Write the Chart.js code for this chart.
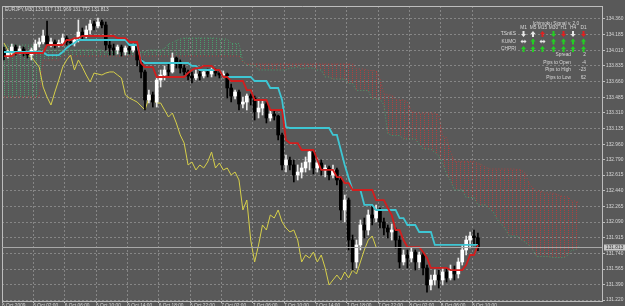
<!DOCTYPE html>
<html><head><meta charset="utf-8">
<script src="https://cdn.jsdelivr.net/npm/chart.js@4/dist/chart.umd.min.js"></script>
<style>html,body{margin:0;padding:0;background:#595959;overflow:hidden}canvas{display:block}</style>
</head><body>
<canvas id="c" width="625" height="306"></canvas>
<script>
// ---------- DATA ----------
const chartTitle = "EURJPY,M30 131.917 131.969 131.772 131.813";
const timeLabels = ["6 Oct 2009","6 Oct 02:00","6 Oct 06:00","6 Oct 10:00","6 Oct 14:00","6 Oct 18:00","6 Oct 22:00","7 Oct 02:00","7 Oct 06:00","7 Oct 10:00","7 Oct 14:00","7 Oct 18:00","7 Oct 22:00","8 Oct 02:00","8 Oct 06:00","8 Oct 10:00"];
const priceTicks = [134.360,134.185,134.010,133.835,133.660,133.485,133.310,133.135,132.960,132.790,132.615,132.440,132.265,132.090,131.915,131.740,131.565,131.390,131.220];

const opens = [134.013,133.946,133.991,134.047,134.002,134.025,133.980,133.957,134.013,134.080,134.103,134.170,134.080,134.103,134.069,134.092,134.147,134.103,134.092,134.125,
134.214,134.170,134.237,134.304,134.282,134.326,134.293,134.069,134.036,134.013,134.047,133.991,134.036,134.013,134.058,133.902,133.768,133.455,133.511,133.432,
133.678,133.734,133.790,133.768,133.924,133.879,133.812,133.768,133.723,133.701,133.745,133.723,133.768,133.745,133.779,133.756,133.734,133.745,133.589,133.499,
133.544,133.410,133.432,133.499,133.477,133.321,133.365,133.410,133.254,133.298,133.276,133.064,132.729,132.784,132.729,132.617,132.650,132.695,132.762,132.874,
132.695,132.751,132.673,132.695,132.617,132.673,132.561,132.226,132.337,131.890,131.645,131.835,132.058,132.002,132.170,132.136,132.226,132.092,132.025,131.980,
132.002,131.890,131.645,131.723,131.689,131.756,131.645,131.723,131.578,131.388,131.444,131.499,131.444,131.533,131.466,131.555,131.511,131.645,131.779,131.890,
131.935,131.917];
const highs = [134.047,134.013,134.080,134.069,134.058,134.047,134.002,134.036,134.125,134.147,134.237,134.337,134.147,134.125,134.125,134.192,134.170,134.125,134.147,134.349,
134.259,134.282,134.349,134.337,134.371,134.349,134.326,134.125,134.080,134.069,134.069,134.058,134.069,134.080,134.069,133.924,133.790,133.566,133.544,133.712,
133.790,133.835,133.868,133.980,133.935,133.902,133.846,133.790,133.768,133.790,133.790,133.790,133.801,133.812,133.801,133.790,133.779,133.756,133.633,133.566,
133.566,133.488,133.522,133.522,133.499,133.455,133.444,133.432,133.343,133.343,133.287,133.086,132.840,132.818,132.784,132.729,132.751,132.818,132.896,132.896,
132.807,132.784,132.729,132.717,132.729,132.695,132.583,132.393,132.360,131.946,131.890,132.114,132.136,132.226,132.282,132.282,132.248,132.136,132.058,132.069,
132.025,131.935,131.779,131.779,131.801,131.779,131.756,131.756,131.611,131.499,131.555,131.555,131.578,131.578,131.611,131.600,131.689,131.835,131.935,131.980,
132.002,131.969];
const lows = [133.902,133.924,133.957,133.957,133.969,133.946,133.924,133.902,133.991,134.047,134.080,134.058,134.047,134.036,134.047,134.058,134.069,134.058,134.058,134.103,
134.125,134.147,134.192,134.237,134.259,134.259,134.013,133.957,133.957,133.969,133.946,133.957,133.969,133.991,133.835,133.701,133.343,133.421,133.376,133.376,
133.600,133.678,133.712,133.756,133.812,133.756,133.734,133.678,133.645,133.678,133.678,133.701,133.712,133.712,133.723,133.701,133.701,133.477,133.432,133.466,
133.343,133.365,133.343,133.399,133.231,133.254,133.287,133.198,133.220,133.231,133.008,132.673,132.650,132.673,132.539,132.561,132.583,132.650,132.673,132.628,
132.650,132.617,132.594,132.561,132.583,132.505,132.114,132.092,131.779,131.555,131.578,131.779,131.913,131.946,132.058,132.092,132.025,131.946,131.913,131.890,
131.801,131.578,131.611,131.578,131.645,131.555,131.578,131.499,131.309,131.332,131.388,131.354,131.388,131.421,131.444,131.444,131.466,131.611,131.723,131.801,
131.846,131.772];
const closes = [133.946,133.991,134.047,134.002,134.025,133.980,133.957,134.013,134.080,134.103,134.170,134.080,134.103,134.069,134.092,134.147,134.103,134.092,134.125,134.214,
134.170,134.237,134.304,134.282,134.326,134.293,134.069,134.036,134.013,134.047,133.991,134.036,134.013,134.058,133.902,133.768,133.455,133.511,133.432,133.678,
133.734,133.790,133.768,133.924,133.879,133.812,133.768,133.723,133.701,133.745,133.723,133.768,133.745,133.779,133.756,133.734,133.745,133.589,133.499,133.544,
133.410,133.432,133.499,133.477,133.321,133.365,133.410,133.254,133.298,133.276,133.064,132.729,132.784,132.729,132.617,132.650,132.695,132.762,132.874,132.695,
132.751,132.673,132.695,132.617,132.673,132.561,132.226,132.337,131.890,131.645,131.835,132.058,132.002,132.170,132.136,132.226,132.092,132.025,131.980,132.002,
131.890,131.645,131.723,131.689,131.756,131.645,131.723,131.578,131.388,131.444,131.499,131.444,131.533,131.466,131.555,131.511,131.645,131.779,131.890,131.935,
131.917,131.813];

const tenkan = [133.946,133.946,133.946,133.980,133.980,133.980,133.980,133.980,133.980,133.980,133.980,134.069,134.069,134.069,134.069,134.069,134.125,134.125,134.147,134.147,
134.170,134.170,134.170,134.170,134.170,134.170,134.170,134.170,134.170,134.147,134.147,134.147,134.103,134.103,134.103,133.868,133.823,133.823,133.823,133.712,
133.712,133.712,133.712,133.712,133.712,133.712,133.712,133.756,133.790,133.812,133.812,133.835,133.835,133.835,133.790,133.790,133.712,133.712,133.667,133.667,
133.667,133.667,133.566,133.566,133.455,133.455,133.455,133.455,133.343,133.343,133.343,133.343,133.008,132.974,132.974,132.974,132.896,132.896,132.896,132.896,
132.784,132.673,132.673,132.673,132.673,132.594,132.594,132.527,132.527,132.449,132.449,132.449,132.449,132.449,132.449,132.337,132.337,132.337,132.248,132.170,
132.002,132.002,131.890,131.812,131.812,131.812,131.812,131.756,131.689,131.578,131.578,131.578,131.578,131.578,131.555,131.555,131.555,131.555,131.611,131.723,
131.723,131.835];
const kijun = [133.991,133.991,133.991,133.991,133.991,133.991,133.991,133.991,133.991,133.991,133.991,133.957,133.957,133.957,133.957,133.991,134.036,134.069,134.092,134.125,
134.125,134.125,134.125,134.125,134.125,134.125,134.125,134.125,134.125,134.125,134.125,134.125,134.069,134.069,134.069,133.902,133.868,133.868,133.868,133.868,
133.868,133.868,133.868,133.868,133.868,133.868,133.868,133.868,133.835,133.835,133.790,133.790,133.790,133.790,133.790,133.790,133.712,133.712,133.712,133.712,
133.712,133.712,133.712,133.712,133.667,133.667,133.667,133.667,133.589,133.589,133.589,133.455,133.153,133.142,133.142,133.142,133.142,133.142,133.142,133.142,
133.142,133.142,133.142,133.142,133.064,133.064,132.896,132.729,132.583,132.449,132.449,132.449,132.282,132.282,132.282,132.226,132.226,132.226,132.226,132.226,
132.226,132.136,132.136,132.058,132.058,132.058,131.980,131.980,131.980,131.980,131.835,131.835,131.835,131.835,131.835,131.835,131.835,131.835,131.835,131.835,
131.835,131.835];
const chikou = [134.092,134.013,133.957,133.991,134.013,133.991,133.957,133.935,133.879,133.823,133.600,133.488,133.399,133.544,133.678,133.823,133.902,133.957,133.790,133.902,
133.823,133.734,133.656,133.756,133.745,133.734,133.756,133.768,133.768,133.734,133.701,133.511,133.477,133.455,133.432,133.388,133.343,133.477,133.455,133.421,
133.421,133.343,133.265,133.309,133.198,133.064,132.974,132.729,132.762,132.673,132.729,132.695,132.762,132.874,132.695,132.751,132.673,132.695,132.617,132.650,
132.561,132.226,132.337,131.890,131.645,131.835,132.058,132.002,132.170,132.136,132.226,132.092,132.025,131.980,132.002,131.890,131.645,131.723,131.689,131.756,
131.645,131.723,131.578,131.388,131.444,131.499,131.444,131.533,131.466,131.555,131.511,131.645,131.779,131.890,131.935,131.812];
const spanA = [134.069,134.069,134.069,134.069,134.069,134.069,134.069,134.069,134.069,134.069,
134.013,134.013,134.013,134.013,134.013,134.013,134.013,134.013,134.013,134.013,134.013,134.013,134.013,134.013,134.013,134.013,
133.991,133.991,133.991,133.991,133.991,133.991,133.991,133.991,133.991,133.991,133.991,
134.013,134.013,134.013,134.013,134.030,
134.080,134.097,134.119,134.136,
134.147,134.147,134.147,134.147,134.147,134.147,134.147,134.147,134.147,
134.136,134.136,134.136,
134.086,134.086,134.086,
133.885,
133.846,133.846,133.846,
133.790,133.790,133.790,133.790,133.790,133.790,133.790,133.790,
133.812,133.812,133.823,133.801,
133.812,133.812,133.812,
133.790,133.790,
133.712,133.712,
133.689,133.689,133.689,133.689,
133.639,133.639,
133.561,133.561,133.561,133.561,
133.466,133.466,133.466,
133.399,
133.080,
133.058,133.058,133.058,
133.019,133.019,133.019,133.019,
132.963,
132.907,132.907,132.907,
132.868,132.829,132.745,132.628,132.555,
132.449,132.449,132.449,
132.365,132.365,132.365,
132.282,132.282,132.282,
132.237,132.198,132.114,132.069,132.013,
131.935,131.935,131.935,
131.896,131.868,131.835,131.779,
131.706,131.706,131.706,131.706,
131.695,131.695,131.695,131.695,
131.723,131.779,131.779,131.835];
const spanB = [133.488,133.488,133.488,133.488,133.488,133.488,133.488,133.488,133.488,133.488,
133.902,133.902,133.902,133.902,133.902,
133.946,133.946,133.946,133.946,133.946,133.946,133.946,133.946,133.946,133.946,
133.946,133.946,133.946,133.946,133.946,133.946,133.946,133.946,133.946,133.946,
133.946,133.946,133.946,133.946,133.946,133.946,133.946,133.946,133.946,133.946,
133.946,133.946,133.946,133.946,133.946,133.946,133.946,133.946,133.946,133.946,
133.946,133.946,133.946,133.946,133.946,133.946,
133.879,
133.857,133.857,133.857,133.857,133.857,133.857,133.857,133.857,133.857,133.857,
133.857,133.857,133.857,133.857,133.857,133.857,133.857,133.857,133.857,133.857,
133.857,133.857,133.857,133.857,133.857,133.857,133.857,133.857,
133.801,133.801,133.801,
133.784,133.784,133.784,
133.689,133.522,133.511,133.511,
133.455,133.455,133.455,
133.432,133.332,
133.309,133.309,133.309,133.309,133.309,133.309,
133.287,133.047,133.036,132.879,
132.768,132.768,132.768,132.768,132.768,132.768,
132.745,132.729,132.701,
132.684,132.684,132.684,132.684,132.684,132.684,132.684,
132.678,132.673,132.639,132.533,132.471,
132.438,132.438,
132.416,132.416,132.416,
132.404,132.382,132.377,132.371,
132.326,132.326,132.298];

const panelTitle = "Ichimoku Signal v. 2.0";
const panelTimeframes = ["M1","M5","M15","M30","H1","H4","D1"];
const panelRows = ["TSnKS","KUMO","CHPRI"];
const panelSignals = [
  ["down-w","up-w","up-r","down-g","down-r","down-w","down-r"],
  ["side-w","up-g","side-w","up-g","up-g","up-g","up-g"],
  ["up-g","up-g","up-g","up-g","up-g","up-g","up-g"]
];
const infoLabels = ["Spread","Pips to Open","Pips to High","Pips to Low"];
const infoValues = ["2","-4","-23","62"];

// ---------- STYLE ----------
const BG = '#595959';
const FONT = '"Liberation Sans", Arial, sans-serif';
const TXT = '#d8d8d8';
const GRID = 'rgba(150,150,150,0.75)';
const FRAME = '#bdbdbd';

function dotPattern(color){
  const c = document.createElement('canvas'); c.width = 4; c.height = 2;
  const g = c.getContext('2d'); g.fillStyle = color; g.fillRect(0,0,1,1);
  return g.createPattern(c,'repeat');
}
const greenPat = dotPattern('#4a9e6c');
const redPat = dotPattern('#ad4040');

const xy = arr => arr.map((v,i)=>({x:i,y:v}));
const bull = opens.map((o,i)=>closes[i] >= o);

const bgPlugin = {
  id:'bg',
  beforeDraw(chart){ const c = chart.ctx; c.save(); c.fillStyle = BG; c.fillRect(0,0,chart.width,chart.height); c.restore(); }
};
const framePlugin = {
  id:'frame',
  afterDraw(chart){
    const c = chart.ctx, a = chart.chartArea, ys = chart.scales.y;
    c.save();
    c.strokeStyle = FRAME; c.lineWidth = 1;
    c.beginPath();
    c.moveTo(a.left+0.5, a.bottom); c.lineTo(a.left+0.5, a.top+0.5); c.lineTo(a.right, a.top+0.5);
    c.stroke();
    // bid line
    const last = closes[closes.length-1];
    const py = Math.round(ys.getPixelForValue(last)) + 0.5;
    c.strokeStyle = '#a8a8a8';
    c.beginPath(); c.moveTo(a.left, py); c.lineTo(a.right, py); c.stroke();
    c.fillStyle = '#c9c9c9';
    c.fillRect(a.right+2, py-3, 21, 6);
    c.fillStyle = '#3a3a3a';
    c.font = '4.8px ' + FONT; c.textBaseline = 'middle'; c.textAlign = 'left';
    c.fillText(last.toFixed(3), a.right+4, py+0.3);
    // title
    c.fillStyle = TXT; c.textBaseline = 'top';
    c.font = '4.8px ' + FONT;
    c.fillText(chartTitle, 5, 7);
    // panel
    c.textAlign = 'center';
    c.fillText(panelTitle, 556, 21);
    const colX = [523.5,533,542.5,553.5,563.5,573,583.5];
    panelTimeframes.forEach((t,k)=>c.fillText(t, colX[k], 25.5));
    const rowY = [34,41.5,49];
    c.textAlign = 'right'; c.textBaseline = 'middle';
    panelRows.forEach((r,k)=>c.fillText(r, 516, rowY[k]));
    const cols = {w:'#e6e6e6', g:'#22d022', r:'#e02020'};
    panelSignals.forEach((row,ri)=>row.forEach((s,ci)=>{
      const [dir,col] = s.split('-');
      drawArrow(c, colX[ci], rowY[ri], dir, cols[col]);
    }));
    c.fillStyle = TXT; c.textAlign = 'right';
    const infoY = [55,62.5,70,77.5];
    infoLabels.forEach((l,k)=>{ c.fillText(l, 571, infoY[k]); });
    infoValues.forEach((v,k)=>{ c.fillText(v, 586, infoY[k]); });
    c.restore();
  }
};
function drawArrow(c, x, y, dir, color){
  c.save(); c.fillStyle = color; c.beginPath();
  if (dir === 'up'){
    c.moveTo(x, y-3); c.lineTo(x+2.5, y); c.lineTo(x+1, y); c.lineTo(x+1, y+3); c.lineTo(x-1, y+3); c.lineTo(x-1, y); c.lineTo(x-2.5, y);
  } else if (dir === 'down'){
    c.moveTo(x, y+3); c.lineTo(x+2.5, y); c.lineTo(x+1, y); c.lineTo(x+1, y-3); c.lineTo(x-1, y-3); c.lineTo(x-1, y); c.lineTo(x-2.5, y);
  } else {
    c.moveTo(x-3, y); c.lineTo(x-1, y-2); c.lineTo(x-1, y-0.8); c.lineTo(x+1, y-0.8); c.lineTo(x+1, y-2); c.lineTo(x+3, y);
    c.lineTo(x+1, y+2); c.lineTo(x+1, y+0.8); c.lineTo(x-1, y+0.8); c.lineTo(x-1, y+2);
  }
  c.closePath(); c.fill(); c.restore();
}

const PX_PER_BAR = 3.917;
const plotWidth = 600;

new Chart(document.getElementById('c'), {
  data: {
    datasets: [
      {type:'line', label:'Senkou Span A', data:xy(spanA), borderColor:'#4a9e6c', borderWidth:1, borderDash:[1,2], pointRadius:0,
       fill:{target:'+1', above:greenPat, below:redPat}, order:20},
      {type:'line', label:'Senkou Span B', data:xy(spanB), borderColor:'#ad4040', borderWidth:1, borderDash:[1,2], pointRadius:0, fill:false, order:19},
      {type:'line', label:'Chikou Span', data:xy(chikou), borderColor:'#d6cf4a', borderWidth:1, pointRadius:0, fill:false, order:10},
      {type:'bar', label:'wick', data:lows.map((l,i)=>({x:i,y:[l,highs[i]]})), barThickness:1, grouped:false,
       backgroundColor:bull.map(b=>b?'#e8e8e8':'#000000'), order:6},
      {type:'bar', label:'body', data:opens.map((o,i)=>({x:i,y:[o,closes[i]]})), barThickness:3, grouped:false, minBarLength:1,
       backgroundColor:bull.map(b=>b?'#ffffff':'#000000'), order:5},
      {type:'line', label:'Kijun-sen', data:xy(kijun), borderColor:'#3ec6d3', borderWidth:1.8, pointRadius:0, fill:false, order:2},
      {type:'line', label:'Tenkan-sen', data:xy(tenkan), borderColor:'#d21e1e', borderWidth:1.8, pointRadius:0, fill:false, order:1}
    ]
  },
  options: {
    responsive:false, animation:false, devicePixelRatio:1,
    layout:{padding:{left:2, top:6, right:0, bottom:0}},
    plugins:{legend:{display:false}, tooltip:{enabled:false}},
    scales:{
      x:{type:'linear', min:-0.5, max:-0.5 + plotWidth/PX_PER_BAR, offset:false,
         afterBuildTicks:s=>{ s.ticks = timeLabels.map((t,k)=>({value:k*8-0.5})); },
         afterFit:s=>{ s.height = 5; },
         grid:{color:GRID, lineWidth:1, drawTicks:true, tickLength:2, tickColor:FRAME, offset:false},
         border:{display:true, color:FRAME, width:1, dash:[2,2]},
         ticks:{autoSkip:false, maxRotation:0, align:'start', padding:0, color:TXT, font:{family:FONT, size:4.8},
                callback:(v,i)=>timeLabels[i]}
      },
      y:{position:'right', min:131.209, max:134.505,
         afterBuildTicks:s=>{ s.ticks = priceTicks.map(v=>({value:v})); },
         afterFit:s=>{ s.width = 23; },
         grid:{color:GRID, lineWidth:1, drawTicks:true, tickLength:3, tickColor:FRAME},
         border:{display:true, color:FRAME, width:1, dash:[2,2]},
         ticks:{padding:1, color:TXT, font:{family:FONT, size:4.8}, callback:v=>Number(v).toFixed(3)}
      }
    }
  },
  plugins:[bgPlugin, framePlugin]
});
</script>
</body></html>
